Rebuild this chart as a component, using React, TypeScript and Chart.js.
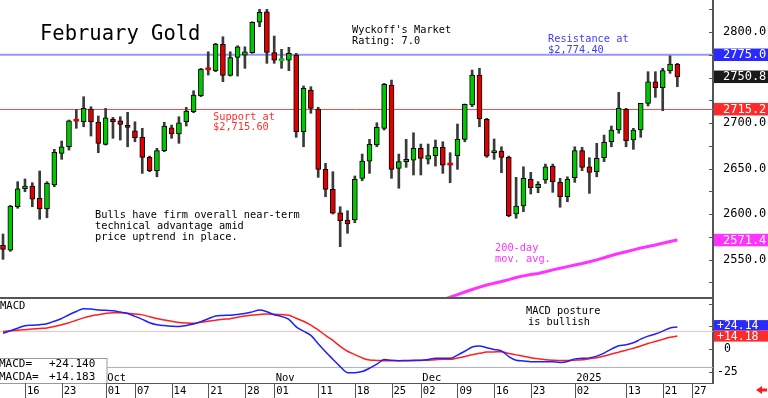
import React, { useEffect, useRef } from 'react';
import { Chart, registerables } from 'chart.js';

Chart.register(...registerables);

const FONT = '"DejaVu Sans Mono", monospace';
Chart.defaults.font.family = FONT;
Chart.defaults.color = '#000';

// ---------- data ----------
const dates = [
  '2024-09-11','2024-09-12','2024-09-13','2024-09-16','2024-09-17','2024-09-18','2024-09-19','2024-09-20','2024-09-23','2024-09-24',
  '2024-09-25','2024-09-26','2024-09-27','2024-09-30','2024-10-01','2024-10-02','2024-10-03','2024-10-04','2024-10-07','2024-10-08',
  '2024-10-09','2024-10-10','2024-10-11','2024-10-14','2024-10-15','2024-10-16','2024-10-17','2024-10-18','2024-10-21','2024-10-22',
  '2024-10-23','2024-10-24','2024-10-25','2024-10-28','2024-10-29','2024-10-30','2024-10-31','2024-11-01','2024-11-04','2024-11-05',
  '2024-11-06','2024-11-07','2024-11-08','2024-11-11','2024-11-12','2024-11-13','2024-11-14','2024-11-15','2024-11-18','2024-11-19',
  '2024-11-20','2024-11-21','2024-11-22','2024-11-25','2024-11-26','2024-11-27','2024-11-29','2024-12-02','2024-12-03','2024-12-04',
  '2024-12-05','2024-12-06','2024-12-09','2024-12-10','2024-12-11','2024-12-12','2024-12-13','2024-12-16','2024-12-17','2024-12-18',
  '2024-12-19','2024-12-20','2024-12-23','2024-12-24','2024-12-26','2024-12-27','2024-12-30','2024-12-31','2025-01-02','2025-01-03',
  '2025-01-06','2025-01-07','2025-01-08','2025-01-09','2025-01-10','2025-01-13','2025-01-14','2025-01-15','2025-01-16','2025-01-17',
  '2025-01-21','2025-01-22','2025-01-23','2025-01-24','2025-01-27','2025-01-28','2025-01-29',
];

const opens = [
  2565.6,2560.4,2608.0,2627.8,2630.8,2617.3,2605.5,2631.9,2666.7,2673.9,
  2703.0,2701.4,2715.4,2701.1,2676.6,2704.4,2702.5,2697.0,2691.5,2684.3,
  2662.3,2647.6,2669.6,2694.8,2687.9,2701.4,2712.4,2730.0,2759.0,2757.5,
  2786.5,2752.4,2772.2,2774.7,2777.3,2810.7,2822.3,2777.3,2768.5,2769.2,
  2774.7,2690.4,2736.3,2715.4,2649.1,2627.1,2601.4,2593.4,2593.4,2639.2,
  2658.2,2675.8,2694.2,2741.8,2650.2,2657.5,2659.3,2672.2,2660.4,2664.1,
  2673.3,2654.5,2664.1,2682.1,2719.8,2752.7,2704.1,2667.4,2669.2,2662.3,
  2600.0,2608.8,2638.1,2628.9,2637.4,2652.7,2634.8,2619.0,2639.9,2669.6,
  2651.9,2646.5,2661.9,2679.4,2692.3,2715.4,2681.3,2692.3,2721.6,2745.4,
  2738.8,2757.5,2764.5,
];
const highs = [
  2578.0,2609.5,2635.5,2638.5,2634.4,2647.3,2635.5,2671.1,2680.2,2703.3,
  2715.0,2728.9,2717.9,2707.7,2716.1,2706.2,2706.9,2711.8,2701.4,2694.2,
  2663.7,2672.2,2700.8,2697.8,2706.9,2717.3,2735.5,2760.1,2778.3,2787.6,
  2794.8,2778.3,2784.9,2783.8,2811.3,2824.9,2824.9,2795.6,2781.0,2783.2,
  2776.6,2740.7,2739.9,2717.3,2655.7,2646.5,2608.0,2603.6,2641.8,2665.9,
  2682.1,2700.3,2743.6,2747.2,2665.9,2682.1,2689.3,2676.9,2676.9,2681.3,
  2679.4,2667.4,2698.9,2720.9,2758.2,2760.1,2705.2,2682.4,2673.9,2663.7,
  2640.3,2651.9,2645.8,2635.5,2654.9,2654.9,2639.2,2640.9,2673.9,2673.3,
  2661.9,2677.7,2686.8,2696.7,2733.7,2716.1,2694.2,2721.6,2756.4,2756.4,
  2760.1,2773.9,2765.6,
];
const lows = [
  2550.2,2559.0,2606.3,2624.5,2608.0,2594.2,2595.9,2630.0,2660.1,2670.3,
  2694.2,2695.9,2685.7,2667.4,2675.8,2683.2,2681.3,2673.9,2679.4,2644.7,
  2646.5,2640.9,2668.5,2683.2,2677.7,2696.7,2711.3,2728.9,2752.7,2756.4,
  2745.4,2751.6,2751.6,2760.1,2776.6,2805.8,2765.6,2765.6,2760.1,2757.5,
  2684.3,2673.9,2710.7,2640.3,2619.0,2600.0,2564.1,2578.8,2590.4,2636.6,
  2644.7,2673.9,2692.3,2639.2,2628.3,2651.3,2642.9,2642.9,2654.9,2652.7,
  2644.7,2634.4,2649.1,2679.4,2717.9,2695.9,2662.3,2660.1,2645.4,2597.0,
  2595.3,2602.5,2622.0,2623.4,2633.7,2623.8,2607.4,2613.5,2634.8,2647.6,
  2622.7,2640.9,2657.5,2673.9,2688.7,2673.9,2671.1,2684.3,2718.7,2728.2,
  2713.5,2754.6,2739.9,
];
const closes = [
  2561.2,2608.8,2627.8,2630.8,2616.2,2605.5,2633.7,2667.8,2673.9,2702.5,
  2702.0,2716.1,2701.4,2677.7,2705.8,2701.4,2698.6,2695.3,2683.8,2662.3,
  2647.6,2669.6,2696.7,2687.9,2700.3,2713.2,2730.8,2759.3,2758.5,2786.8,
  2752.4,2771.8,2783.8,2778.3,2810.7,2821.6,2777.7,2769.2,2769.0,2776.6,
  2690.4,2738.1,2716.1,2649.1,2627.1,2600.8,2592.6,2589.0,2638.1,2658.2,
  2676.6,2695.3,2742.5,2649.1,2657.5,2660.1,2672.2,2661.2,2664.1,2673.3,
  2653.8,2653.8,2682.1,2720.5,2752.7,2704.4,2663.7,2669.6,2662.3,2598.1,
  2608.8,2639.2,2628.9,2632.6,2651.9,2635.5,2619.0,2638.1,2669.6,2651.3,
  2645.8,2661.2,2678.8,2692.3,2716.1,2680.6,2692.3,2721.6,2745.4,2738.8,
  2757.5,2764.8,2750.8,
];

// 200-day moving average (becomes visible in early December)
const ma200Start = '2024-12-03';
const ma200 = [
  2500.0,2502.8,2505.7,2508.6,2511.5,2514.3,2517.0,2519.6,2522.0,2524.0,
  2525.8,2527.9,2530.2,2532.0,2533.6,2534.7,2536.5,2538.6,2540.4,2542.2,
  2544.0,2545.6,2547.6,2549.6,2551.9,2554.4,2556.6,2558.6,2560.6,2562.6,
  2564.3,2566.0,2567.8,2569.7,2571.4,
];

const macdLine = [
  17.3,20.1,22.9,25.7,26.2,26.8,27.9,30.6,33.6,37.7,
  41.3,44.4,44.0,42.9,42.6,42.2,40.7,39.1,36.0,32.7,
  28.9,26.7,25.8,25.1,24.7,25.9,27.5,30.2,33.3,36.4,
  37.0,37.3,38.1,39.1,40.9,42.9,41.1,37.8,35.9,32.6,
  24.4,19.6,15.0,5.9,-3.1,-11.3,-19.4,-26.1,-26.1,-24.9,
  -21.2,-16.8,-11.6,-12.5,-12.9,-12.7,-12.5,-12.5,-11.5,-10.3,
  -10.3,-10.3,-6.7,-2.5,2.2,3.4,1.4,-0.5,-2.2,-8.3,
  -12.4,-13.2,-14.0,-14.0,-14.0,-14.2,-14.8,-13.8,-10.9,-10.3,
  -9.8,-7.9,-4.5,-0.1,3.6,4.6,6.8,10.8,14.2,16.6,
  19.7,23.2,24.140,
];
const macdSignal = [
  19.4,20.0,20.7,21.3,21.9,22.6,23.2,24.7,26.8,29.0,
  31.6,34.3,36.4,37.8,39.2,40.0,40.0,39.4,38.5,37.6,
  35.6,33.5,31.9,30.6,29.2,28.6,28.4,29.5,30.6,31.6,
  32.9,33.4,34.9,36.4,37.5,38.0,38.5,38.3,37.9,37.2,
  33.9,30.6,26.4,21.0,15.0,9.5,2.9,-2.5,-6.2,-9.8,
  -12.2,-12.6,-12.9,-12.9,-12.9,-12.9,-12.9,-12.6,-12.3,-11.9,
  -11.4,-11.4,-9.9,-8.2,-6.4,-4.8,-3.4,-3.2,-3.1,-4.9,
  -6.5,-8.0,-9.6,-10.8,-11.8,-12.4,-12.8,-12.6,-12.3,-12.0,
  -10.7,-9.6,-7.8,-5.5,-3.5,-1.5,0.9,3.3,6.0,8.3,
  10.6,13.0,14.183,
];

const priceTicks = [2550, 2600, 2650, 2700, 2750, 2800];
const macdTicks = [-25, 0, 25];
const macdBands = [20, -20];

const tickDates = [
  '2024-09-16','2024-09-23','2024-10-01','2024-10-07','2024-10-14','2024-10-21','2024-10-28',
  '2024-11-01','2024-11-11','2024-11-18','2024-11-25','2024-12-02','2024-12-09','2024-12-16',
  '2024-12-23','2025-01-02','2025-01-13','2025-01-21','2025-01-27',
];
const tickLabels = ['16','23','01','07','14','21','28','01','11','18','25','02','09','16','23','02','13','21','27'];
const monthDates = ['2024-10-01', '2024-11-01', '2024-12-02', '2025-01-02'];
const monthLabels = ['Oct', 'Nov', 'Dec', '2025'];

const resistanceLevel = 2775.0;
const supportLevel = 2715.2;

// ---------- layout constants ----------
const W = 768;
const H1 = 297;
const H2 = 101;
const AXIS_W = 55;
const X_MIN = -0.41;
const X_MAX = 96.86;
const PRICE_MIN = 2508.8;
const PRICE_MAX = 2835.2;
const MACD_MIN = -37.5;
const MACD_MAX = 57.3;

const GREEN = '#00c800';
const RED = '#e00000';
const BLUE_BOX = '#2a2aff';
const RED_BOX = '#ff2a2a';
const MAGENTA = '#ff33ff';
const AXIS_COLOR = '#555555';

const idxOf = (d: string) => dates.indexOf(d);

function drawText(ctx: CanvasRenderingContext2D, s: string, x: number, y: number, color: string, size: number) {
  ctx.save();
  ctx.font = `${size}px ${FONT}`;
  ctx.fillStyle = color;
  ctx.textAlign = 'left';
  ctx.textBaseline = 'alphabetic';
  ctx.fillText(s, x, y);
  ctx.restore();
}

function axisBox(ctx: CanvasRenderingContext2D, x: number, top: number, h: number, label: string, bg: string, textX: number, size: number) {
  ctx.save();
  ctx.fillStyle = bg;
  ctx.fillRect(x, top, W - x, h);
  ctx.fillStyle = '#ffffff';
  ctx.font = `${size}px ${FONT}`;
  ctx.textAlign = 'left';
  ctx.textBaseline = 'middle';
  ctx.fillText(label, textX, top + h / 2 + 0.5);
  ctx.restore();
}

const fixAxisWidth = (s: any) => {
  s.width = AXIS_W;
  s.paddingTop = 0;
  s.paddingBottom = 0;
};

const pricePlugin = {
  id: 'priceDecor',
  beforeDatasetsDraw(chart: any) {
    const { ctx, chartArea: a, scales } = chart;
    const y = scales.y;
    ctx.save();
    let py = y.getPixelForValue(resistanceLevel);
    ctx.strokeStyle = 'rgb(150,150,255)';
    ctx.lineWidth = 2;
    ctx.beginPath();
    ctx.moveTo(a.left, py);
    ctx.lineTo(a.right, py);
    ctx.stroke();
    py = Math.round(y.getPixelForValue(supportLevel)) + 0.5;
    ctx.strokeStyle = '#ff4a4a';
    ctx.lineWidth = 1;
    ctx.beginPath();
    ctx.moveTo(a.left, py);
    ctx.lineTo(a.right, py);
    ctx.stroke();
    ctx.restore();
  },
  afterDatasetsDraw(chart: any) {
    const ctx = chart.ctx;
    drawText(ctx, 'February Gold', 40, 39.5, '#000', 20.5);
    drawText(ctx, "Wyckoff's Market", 352, 33.3, '#000', 10.3);
    drawText(ctx, 'Rating: 7.0', 352, 44, '#000', 10.3);
    drawText(ctx, 'Resistance at', 548, 42.3, '#3c3cff', 10.3);
    drawText(ctx, '$2,774.40', 548, 52.7, '#3c3cff', 10.3);
    drawText(ctx, 'Support at', 213, 120, '#ff3030', 10.3);
    drawText(ctx, '$2,715.60', 213, 130.3, '#ff3030', 10.3);
    drawText(ctx, 'Bulls have firm overall near-term', 95, 218.3, '#000', 10.3);
    drawText(ctx, 'technical advantage amid', 95, 229, '#000', 10.3);
    drawText(ctx, 'price uptrend in place.', 95, 239.7, '#000', 10.3);
    drawText(ctx, '200-day', 495, 251, MAGENTA, 10.3);
    drawText(ctx, 'mov. avg.', 495, 261.7, MAGENTA, 10.3);
  },
  afterDraw(chart: any) {
    const { ctx, chartArea: a, scales } = chart;
    const y = scales.y;
    ctx.save();
    ctx.strokeStyle = AXIS_COLOR;
    ctx.lineWidth = 1;
    for (let v = 2525; v <= 2825; v += 25) {
      const py = Math.round(y.getPixelForValue(v)) + 0.5;
      ctx.beginPath();
      ctx.moveTo(a.right - 4, py);
      ctx.lineTo(a.right, py);
      ctx.stroke();
    }
    ctx.restore();
    const boxes: [number, string][] = [
      [resistanceLevel, BLUE_BOX],
      [closes[closes.length - 1], '#1a1a1a'],
      [supportLevel, RED_BOX],
      [ma200[ma200.length - 1], MAGENTA],
    ];
    const h = 12.5;
    boxes.forEach(([v, c]) => {
      const py = y.getPixelForValue(v);
      axisBox(ctx, a.right + 1, py - h / 2, h, v.toFixed(1), c, a.right + 10, 12);
    });
  },
};

const macdPlugin = {
  id: 'macdDecor',
  beforeDatasetsDraw(chart: any) {
    const { ctx, chartArea: a, scales } = chart;
    const y = scales.y;
    ctx.save();
    const colors = ['rgb(255,190,190)', 'rgb(170,170,255)'];
    macdBands.forEach((v, i) => {
      const py = Math.round(y.getPixelForValue(v)) + 0.5;
      ctx.strokeStyle = colors[i];
      ctx.lineWidth = 1;
      ctx.beginPath();
      ctx.moveTo(a.left, py);
      ctx.lineTo(a.right, py);
      ctx.stroke();
    });
    ctx.restore();
  },
  afterDatasetsDraw(chart: any) {
    const { ctx, chartArea: a, scales } = chart;
    const x = scales.x;
    drawText(ctx, 'MACD', 0, 12.3, '#000', 10.5);
    drawText(ctx, 'MACD posture', 526, 17.3, '#000', 10.3);
    drawText(ctx, 'is bullish', 528, 28, '#000', 10.3);
    monthDates.forEach((d, i) => {
      const px = x.getPixelForValue(idxOf(d));
      drawText(ctx, monthLabels[i], px + 1.5, 84, '#000', 10.5);
    });
    // legend box
    ctx.save();
    ctx.fillStyle = '#ffffff';
    ctx.fillRect(-1, 61, 108, a.bottom - 61);
    ctx.strokeStyle = '#9a9a9a';
    ctx.lineWidth = 1;
    ctx.strokeRect(-1.5, 61.5, 108.5, a.bottom - 61);
    ctx.restore();
    const m = macdLine[macdLine.length - 1];
    const s = macdSignal[macdSignal.length - 1];
    drawText(ctx, 'MACD=', -1, 70.3, '#000', 11);
    drawText(ctx, 'MACDA=', -1, 83, '#000', 11);
    drawText(ctx, (m >= 0 ? '+' : '') + m.toFixed(3), 49, 70.3, '#000', 11);
    drawText(ctx, (s >= 0 ? '+' : '') + s.toFixed(3), 49, 83, '#000', 11);
  },
  afterDraw(chart: any) {
    const { ctx, chartArea: a, scales } = chart;
    const x = scales.x;
    const y = scales.y;
    ctx.save();
    // border between the price pane and the MACD pane
    ctx.fillStyle = AXIS_COLOR;
    ctx.fillRect(0, 0, a.right + 1, 2);
    // right axis tick marks
    ctx.strokeStyle = AXIS_COLOR;
    ctx.lineWidth = 1;
    [-25, 0, 25, 50].forEach((v) => {
      const py = Math.round(y.getPixelForValue(v)) + 0.5;
      ctx.beginPath();
      ctx.moveTo(a.right - 4, py);
      ctx.lineTo(a.right, py);
      ctx.stroke();
    });
    // date row separators
    x.ticks.forEach((t: any) => {
      const px = Math.round(x.getPixelForValue(t.value)) + 0.5;
      ctx.beginPath();
      ctx.moveTo(px, a.bottom);
      ctx.lineTo(px, H2);
      ctx.stroke();
    });
    // small red arrow at bottom right
    ctx.fillStyle = '#ff1a1a';
    ctx.beginPath();
    ctx.moveTo(756, 93);
    ctx.lineTo(762, 89);
    ctx.lineTo(762, 97);
    ctx.closePath();
    ctx.fill();
    ctx.fillRect(761, 91.5, 6, 3);
    ctx.restore();
    // value boxes
    const m = macdLine[macdLine.length - 1];
    const s = macdSignal[macdSignal.length - 1];
    const h = 10.5;
    let p1 = y.getPixelForValue(m);
    let p2 = y.getPixelForValue(s);
    if (Math.abs(p2 - p1) < h) {
      const mid = (p1 + p2) / 2;
      p1 = mid - h / 2;
      p2 = mid + h / 2;
    }
    axisBox(ctx, a.right + 1, p1 - h / 2 - 1, h, (m >= 0 ? '+' : '') + m.toFixed(2), BLUE_BOX, a.right + 4, 11.5);
    axisBox(ctx, a.right + 1, p2 - h / 2 - 1, h + 0.5, (s >= 0 ? '+' : '') + s.toFixed(2), RED_BOX, a.right + 4, 11.5);
  },
};

export default function App() {
  const priceRef = useRef<HTMLCanvasElement>(null);
  const macdRef = useRef<HTMLCanvasElement>(null);

  useEffect(() => {
    document.body.style.margin = '0';
    const up = closes.map((c, i) => c >= opens[i]);
    const bodies = closes.map((c, i) => ({ x: i, y: [opens[i], c] }));
    const wicks = closes.map((c, i) => ({ x: i, y: [lows[i], highs[i]] }));
    const maStart = idxOf(ma200Start);
    const maData = ma200.map((v, i) => ({ x: maStart + i, y: v }));

    const priceChart = new Chart(priceRef.current as HTMLCanvasElement, {
      type: 'bar',
      data: {
        datasets: [
          {
            type: 'bar',
            data: bodies as any,
            backgroundColor: up.map((u) => (u ? GREEN : RED)),
            borderColor: '#000000',
            borderWidth: ((c: any) => (Math.abs(opens[c.dataIndex] - closes[c.dataIndex]) < 1.6 ? 0 : 1)) as any,
            borderSkipped: false,
            grouped: false,
            barThickness: 5,
            maxBarThickness: 5,
            minBarLength: 2,
            categoryPercentage: 1,
            barPercentage: 1,
            order: 0,
          },
          {
            type: 'bar',
            data: wicks as any,
            backgroundColor: '#3a3a3a',
            borderWidth: 0,
            grouped: false,
            barThickness: 2,
            maxBarThickness: 2,
            categoryPercentage: 1,
            barPercentage: 1,
            order: 1,
          },
          {
            type: 'line',
            data: maData as any,
            borderColor: MAGENTA,
            borderWidth: 3,
            pointRadius: 0,
            tension: 0,
            order: 2,
          } as any,
        ],
      },
      options: {
        responsive: false,
        animation: false,
        events: [],
        layout: { padding: 0 },
        plugins: { legend: { display: false }, tooltip: { enabled: false } },
        scales: {
          x: {
            type: 'linear',
            min: X_MIN,
            max: X_MAX,
            offset: false,
            display: false,
            grid: { display: false, offset: false },
          },
          y: {
            type: 'linear',
            position: 'right',
            min: PRICE_MIN,
            max: PRICE_MAX,
            afterBuildTicks: (s: any) => {
              s.ticks = priceTicks.map((v) => ({ value: v }));
            },
            afterFit: fixAxisWidth,
            grid: { display: false, drawTicks: false },
            border: { display: true, color: AXIS_COLOR, width: 2 },
            ticks: {
              padding: 10,
              color: '#000',
              font: { size: 12 },
              callback: (v: any) => Number(v).toFixed(1),
            },
          },
        },
      } as any,
      plugins: [pricePlugin],
    });

    const macdChart = new Chart(macdRef.current as HTMLCanvasElement, {
      type: 'line',
      data: {
        datasets: [
          {
            data: macdLine.map((v, i) => ({ x: i, y: v })) as any,
            borderColor: '#1f1fff',
            borderWidth: 1.5,
            pointRadius: 0,
            cubicInterpolationMode: 'monotone',
          },
          {
            data: macdSignal.map((v, i) => ({ x: i, y: v })) as any,
            borderColor: '#ff1f1f',
            borderWidth: 1.5,
            pointRadius: 0,
            cubicInterpolationMode: 'monotone',
          },
        ],
      },
      options: {
        responsive: false,
        animation: false,
        events: [],
        layout: { padding: 0 },
        plugins: { legend: { display: false }, tooltip: { enabled: false } },
        scales: {
          x: {
            type: 'linear',
            position: 'bottom',
            min: X_MIN,
            max: X_MAX,
            offset: false,
            afterBuildTicks: (s: any) => {
              s.ticks = tickDates.map((d) => ({ value: idxOf(d) }));
            },
            afterFit: (s: any) => {
              s.height = 15;
              s.paddingLeft = 0;
              s.paddingRight = 0;
            },
            grid: { display: false, drawTicks: false },
            border: { display: true, color: AXIS_COLOR, width: 1 },
            ticks: {
              autoSkip: false,
              maxRotation: 0,
              minRotation: 0,
              align: 'start',
              labelOffset: 2,
              padding: 2,
              color: '#000',
              font: { size: 10.5 },
              callback: (_v: any, i: number) => tickLabels[i],
            },
          },
          y: {
            type: 'linear',
            position: 'right',
            min: MACD_MIN,
            max: MACD_MAX,
            afterBuildTicks: (s: any) => {
              s.ticks = macdTicks.map((v) => ({ value: v }));
            },
            afterFit: fixAxisWidth,
            grid: { display: false, drawTicks: false },
            border: { display: true, color: AXIS_COLOR, width: 2 },
            ticks: {
              padding: 4,
              color: '#000',
              font: { size: 11.5 },
              callback: (v: any) => (Number(v) === 0 ? ' 0' : String(v)),
            },
          },
        },
      } as any,
      plugins: [macdPlugin],
    });

    return () => {
      priceChart.destroy();
      macdChart.destroy();
    };
  }, []);

  return (
    <div style={{ width: W, background: '#fff' }}>
      <canvas ref={priceRef} width={W} height={H1} style={{ display: 'block' }} />
      <canvas ref={macdRef} width={W} height={H2} style={{ display: 'block' }} />
    </div>
  );
}
